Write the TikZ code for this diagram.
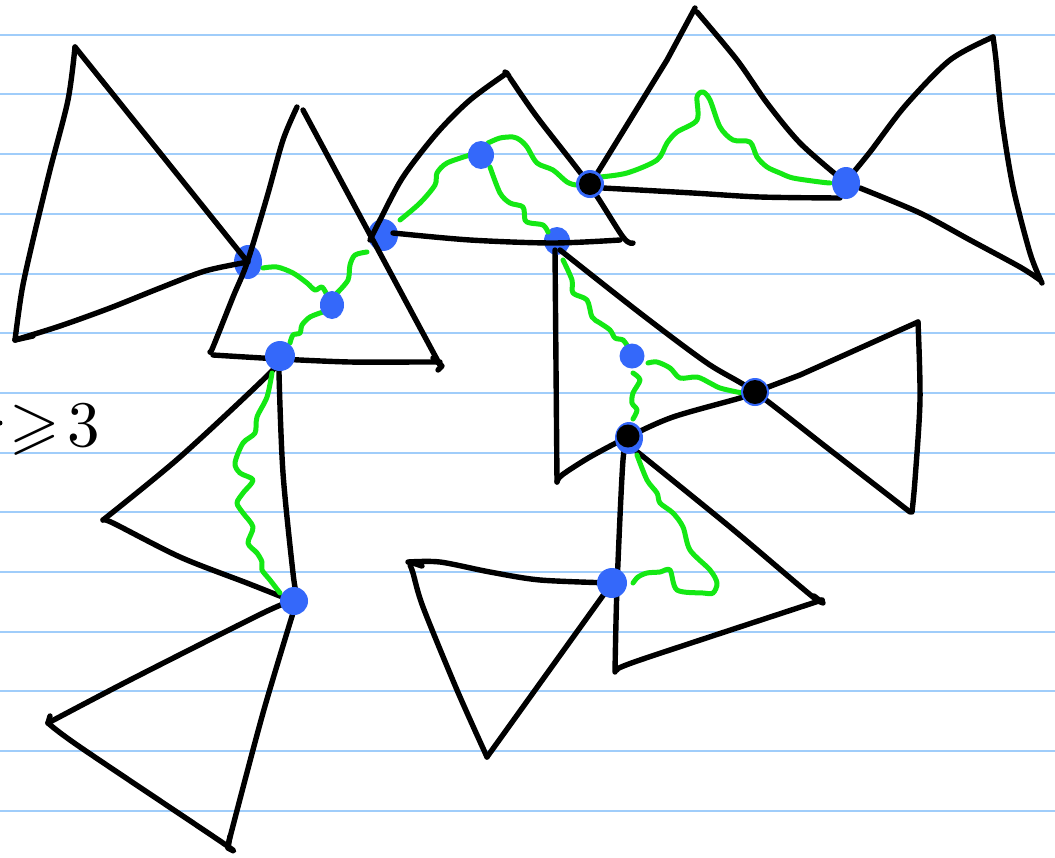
\documentclass[tikz,border=0pt]{standalone}
\usepackage{amssymb}
\definecolor{rulecol}{RGB}{160,205,250}
\definecolor{dotblue}{RGB}{52,104,250}
\definecolor{wire}{RGB}{20,232,20}
\tikzset{
 edge/.style={line width=5.4pt, line cap=round, line join=round},
 wave/.style={wire, line width=5pt, line cap=round, line join=round},
 ruleline/.style={rulecol, line width=2pt},
 bdot/.style={fill=dotblue},
 kdot/.style={fill=black},
}
\begin{document}
\begin{tikzpicture}[x=1pt,y=-1pt]
\useasboundingbox (0,0) rectangle (1055,857);
\fill[white] (0,0) rectangle (1055,857);
\foreach \k in {0,...,13} \draw[ruleline] (0,34.7+59.7*\k) -- (1055,34.7+59.7*\k);

% dots under the lines
\fill[bdot] (248,262) ellipse (14 and 17);
\fill[bdot] (383,235) ellipse (15 and 16);
\fill[bdot] (557,241) ellipse (13 and 14);

% Triangle A
\draw[edge] plot[smooth] coordinates {(75,47) (68,100) (50,170) (33,240) (22,290) (15,340)};
\draw[edge] plot[smooth] coordinates {(15,340) (60,326) (110,308) (160,288) (205,271) (248,262)};
\draw[edge] (75,47) -- (246,260);
\draw[edge] (15,340) -- (33,336);
% Triangle B
\draw[edge] plot[smooth] coordinates {(297,107) (283,140) (267,197) (247,263) (233,297) (213,347) (210,352)};
\draw[edge] plot[smooth] coordinates {(213,355) (280,359) (350,362) (420,362) (440,362)};
\draw[edge] (303,110) -- (440,365);
\draw[edge] (433,358) -- (442,366) -- (438,370);
% Triangle C
\draw[edge] plot[smooth] coordinates {(507,73) (470,100) (437,133) (403,177) (380,220) (370,240)};
\draw[edge] plot[smooth] coordinates {(510,78) (537,117) (588,183) (623,237) (633,243)};
\draw[edge] plot[smooth] coordinates {(393,233) (470,240) (553,243) (620,240)};
\draw[edge] (505,72) -- (509,76);
% Triangle D
\draw[edge] (695,8) -- (667,60) -- (590,185);
\draw[edge] plot[smooth] coordinates {(697,12) (737,60) (767,103) (800,143) (840,178)};
\draw[edge] plot[smooth] coordinates {(603,188) (693,193) (760,197) (840,198)};
% Triangle E
\draw[edge] plot[smooth] coordinates {(993,37) (950,60) (905,106) (870,152) (847,180)};
\draw[edge] plot[smooth] coordinates {(993,37) (996,60) (1002,120) (1013,187) (1030,253) (1042,283)};
\draw[edge] plot[smooth] coordinates {(860,188) (920,213) (970,240) (1020,267) (1040,280)};
% Triangle F
\draw[edge] (555,250) -- (557,482);
\draw[edge] plot[smooth] coordinates {(560,250) (640,313) (707,363) (755,392) (830,450) (910,512)};
\draw[edge] plot[smooth] coordinates {(557,482) (562,475) (590,457) (628,437) (673,417) (740,398) (755,392)};
% Triangle G
\draw[edge] (755,392) -- (800,375) -- (918,322);
\draw[edge] plot[smooth] coordinates {(918,322) (920,400) (915,480) (912,512)};
% Triangle H
\draw[edge] plot[smooth] coordinates {(628,445) (623,460) (617,587) (615,672)};
\draw[edge] plot[smooth] coordinates {(635,450) (730,527) (813,597) (822,600)};
\draw[edge] plot[smooth] coordinates {(617,670) (640,660) (822,600)};
\draw[edge] (814,596) -- (823,603);
% Triangle I
\draw[edge] plot[smooth] coordinates {(408,562) (440,562) (490,572) (540,580) (612,583)};
\draw[edge] plot[smooth] coordinates {(410,565) (413,573) (423,607) (457,690) (487,757)};
\draw[edge] (487,757) -- (612,583);
\draw[edge] (410,562) -- (422,566);
% Triangle J
\draw[edge] plot[smooth] coordinates {(280,357) (270,373) (180,457) (103,520)};
\draw[edge] plot[smooth] coordinates {(103,520) (113,523) (180,557) (247,583) (290,600)};
\draw[edge] plot[smooth] coordinates {(280,357) (279,373) (283,473) (293,573) (297,597)};
% Triangle K
\draw[edge] plot[smooth] coordinates {(295,600) (263,613) (130,680) (48,723)};
\draw[edge] plot[smooth] coordinates {(48,723) (80,747) (223,843) (228,848)};
\draw[edge] plot[smooth] coordinates {(297,600) (263,713) (228,845)};
\draw[edge] (50,716) -- (48,723);
\draw[edge] (230,836) -- (228,848);

% green wiggly paths
\draw[wave] plot[smooth] coordinates {(263,268) (277,267) (293,273) (307,283) (315,290) (322,287) (327,295)};
\draw[wave] plot[smooth] coordinates {(337,293) (348,280) (350,265) (355,255) (367,252)};
\draw[wave] plot[smooth] coordinates {(323,312) (310,317) (302,325) (300,333) (293,335) (290,343)};
\draw[wave] plot[smooth] coordinates {(400,220) (420,203) (435,185) (437,173) (447,163) (470,155)};
\draw[wave] plot[smooth] coordinates {(488,143) (500,138) (513,137) (520,140) (527,147) (537,163) (553,170) (567,182) (577,185) (583,182)};
\draw[wave] plot[smooth] coordinates {(490,167) (500,193) (510,203) (523,207) (525,220) (530,223) (543,225) (548,232)};
\draw[wave] plot[smooth] coordinates {(600,177) (627,173) (657,160) (667,143) (677,132) (697,120) (697,97) (703,92) (710,100) (720,127) (733,140) (750,142) (757,157) (767,167) (780,173) (793,178) (820,182) (830,183)};
\draw[wave] plot[smooth] coordinates {(563,260) (572,280) (573,293) (587,300) (592,317) (600,323) (610,330) (615,338) (623,340) (628,347)};
\draw[wave] plot[smooth] coordinates {(648,363) (657,362) (670,368) (680,378) (697,377) (710,383) (720,388) (737,392) (745,393)};
\draw[wave] plot[smooth] coordinates {(633,373) (640,380) (633,393) (632,403) (637,410) (633,419)};
\draw[wave] plot[smooth] coordinates {(637,455) (647,480) (657,493) (660,503) (673,513) (683,527) (690,550) (710,570) (717,583) (713,593) (703,593) (677,590) (670,570) (660,572) (647,573) (638,577) (633,583)};
\draw[wave] plot[smooth] coordinates {(272,373) (267,397) (257,417) (255,433) (243,443) (235,463) (240,473) (253,480) (243,493) (237,503) (243,513) (253,527) (248,543) (257,553) (262,562) (262,570) (270,580) (280,593)};

% dots over the lines
\fill[bdot] (332,305) ellipse (12 and 14);
\fill[bdot] (481,155) ellipse (13 and 14);
\fill[bdot] (846,183) ellipse (14 and 16);
\fill[bdot] (632,356) circle (12.5);
\fill[bdot] (612,583) circle (15);
\fill[bdot] (280,356) circle (15);
\fill[bdot] (294,601) circle (14);
\fill[bdot] (590,184) circle (14);
\fill[kdot] (590,184) circle (11);
\fill[bdot] (755,392) circle (14);
\fill[kdot] (755,392) circle (12);
\fill[bdot] (629,438) ellipse (14 and 16);
\fill[kdot] (628,436) circle (11.5);

% label
\fill (0,423) circle (2.5);
\node[scale=6.5] (lbl) at (55,430) {$\geqslant\!3$};
\end{tikzpicture}
\end{document}
